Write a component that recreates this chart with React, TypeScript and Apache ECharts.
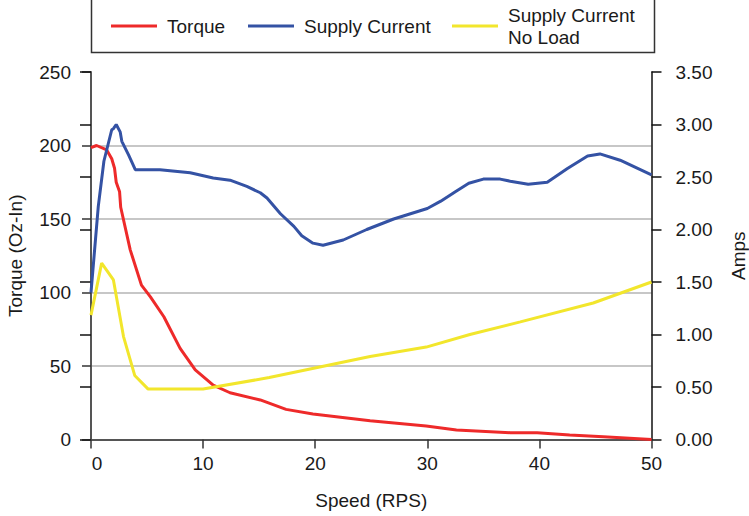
import React, { useEffect, useRef } from "react";
import * as echarts from "echarts";

const torqueSpeed = [0, 0.5, 1.4, 1.85, 2.1, 2.25, 2.55, 2.65, 3.5, 4.5, 5.3, 6.5, 7.95, 9.3, 10.9, 12.4, 15.1, 17.4, 19.8, 24.9, 29.9, 32.6, 37.4, 39.8, 42.7, 45.7, 50];
const torqueValues = [198.5, 200, 197, 191, 184.5, 175, 168.5, 158, 129, 105, 97, 83.5, 62, 47.3, 37, 31.8, 26.9, 20.5, 17.3, 12.8, 9.2, 6.5, 4.6, 4.6, 3.1, 1.9, 0];

const currentSpeed = [0, 0.65, 1.15, 1.85, 2.0, 2.25, 2.6, 2.75, 3.35, 3.95, 6.15, 8.85, 10.9, 12.4, 13.9, 15.1, 15.7, 16.9, 18.1, 18.8, 19.8, 20.7, 22.5, 24.6, 27.0, 30.0, 31.2, 32.5, 33.7, 35.0, 36.5, 37.4, 39.0, 40.7, 42.5, 44.3, 45.4, 47.2, 50];
const currentValues = [1.4, 2.22, 2.65, 2.95, 2.96, 3.0, 2.93, 2.84, 2.71, 2.57, 2.57, 2.54, 2.49, 2.47, 2.41, 2.35, 2.3, 2.15, 2.03, 1.94, 1.87, 1.85, 1.9, 2.0, 2.1, 2.2, 2.27, 2.36, 2.44, 2.48, 2.48, 2.46, 2.43, 2.45, 2.58, 2.7, 2.72, 2.66, 2.52];

const noLoadSpeed = [0, 0.95, 2.0, 2.9, 3.9, 5.1, 10.0, 15.9, 20.4, 24.9, 29.9, 33.8, 38.3, 44.8, 50];
const noLoadValues = [1.185, 1.68, 1.52, 0.98, 0.61, 0.48, 0.48, 0.59, 0.69, 0.79, 0.88, 1.0, 1.12, 1.3, 1.5];

const seriesNames = ["Torque", "Supply Current", "Supply Current\nNo Load"];
const seriesColors = ["#ee2a2a", "#3452a4", "#f2e62c"];

const FONT = "Liberation Sans, Arial, Helvetica, sans-serif";
const TXT = "#1a1a1a";
const FS = 19;

const zip = (xs: number[], ys: number[]) => xs.map((x, i) => [x, ys[i]]);

export default function App() {
  const ref = useRef<HTMLDivElement>(null);
  useEffect(() => {
    if (!ref.current) return;
    const chart = echarts.init(ref.current, null, { renderer: "svg" });
    const legendBase = {
      orient: "horizontal",
      icon: "rect",
      itemWidth: 46,
      itemHeight: 3,
      itemGap: 0,
      padding: 0,
      textStyle: { fontFamily: FONT, fontSize: FS, color: TXT, lineHeight: 22, padding: [0, 0, 0, 5] },
    };
    chart.setOption({
      animation: false,
      backgroundColor: "#fff",
      textStyle: { fontFamily: FONT },
      grid: {
        left: 91,
        right: 97.5,
        top: 72,
        bottom: 76.5,
        containLabel: false,
        outerBoundsMode: "none",
      },
      legend: [
        { ...legendBase, data: [seriesNames[0]], left: 111, top: 15 },
        { ...legendBase, data: [seriesNames[1]], left: 248, top: 15 },
        { ...legendBase, data: [seriesNames[2]], left: 452, top: 4 },
      ],
      graphic: [
        {
          type: "rect",
          left: 89,
          top: -10,
          shape: { width: 563, height: 60 },
          style: { fill: "none", stroke: "#333", lineWidth: 1.5 },
          silent: true,
        },
      ],
      xAxis: {
        type: "value",
        min: 0,
        max: 50,
        interval: 10,
        name: "Speed (RPS)",
        nameLocation: "middle",
        nameGap: 51,
        nameTextStyle: { fontFamily: FONT, fontSize: FS, color: TXT },
        axisLine: { show: true, onZero: false, lineStyle: { color: "#555", width: 2 } },
        axisTick: { show: true, length: 9, lineStyle: { color: "#333", width: 1.5 } },
        axisLabel: {
          fontFamily: FONT,
          fontSize: FS,
          color: TXT,
          margin: 14,
          formatter: (v: number) => (v === 0 ? "{z|0}" : String(v)),
          rich: { z: { fontFamily: FONT, fontSize: FS, color: TXT, padding: [0, 0, 0, 12] } },
        },
        splitLine: { show: false },
      },
      yAxis: [
        {
          type: "value",
          position: "left",
          min: 0,
          max: 250,
          interval: 50,
          name: "Torque (Oz-In)",
          nameLocation: "middle",
          nameGap: 66,
          nameTextStyle: { fontFamily: FONT, fontSize: FS, color: TXT },
          axisLine: { show: true, onZero: false, lineStyle: { color: "#555", width: 2 } },
          axisTick: { show: true, length: 9, lineStyle: { color: "#333", width: 1.5 } },
          axisLabel: { fontFamily: FONT, fontSize: FS, color: TXT, margin: 20 },
          splitLine: {
            show: true,
            lineStyle: {
              color: ["transparent", "#b4b4b4", "#b4b4b4", "#b4b4b4", "#b4b4b4", "transparent"],
              width: 1.5,
            },
          },
        },
        {
          type: "value",
          position: "right",
          min: 0,
          max: 3.5,
          interval: 0.5,
          name: "Amps",
          nameLocation: "middle",
          nameGap: 77,
          nameTextStyle: { fontFamily: FONT, fontSize: FS, color: TXT },
          axisLine: { show: true, onZero: false, lineStyle: { color: "#111", width: 1.5 } },
          axisTick: { show: true, length: 10, lineStyle: { color: "#111", width: 1.5 } },
          axisLabel: {
            fontFamily: FONT,
            fontSize: FS,
            color: TXT,
            margin: 24,
            formatter: (v: number) => v.toFixed(2),
          },
          splitLine: { show: false },
        },
        {
          type: "value",
          position: "right",
          min: 0,
          max: 3.5,
          interval: 0.5,
          axisLine: { show: false },
          axisTick: { show: true, inside: true, length: 11, lineStyle: { color: "#111", width: 1.5 } },
          axisLabel: { show: false },
          splitLine: { show: false },
        },
      ],
      series: [
        {
          name: seriesNames[0],
          type: "line",
          yAxisIndex: 0,
          data: zip(torqueSpeed, torqueValues),
          showSymbol: false,
          color: seriesColors[0],
          lineStyle: { width: 3, color: seriesColors[0] },
        },
        {
          name: seriesNames[1],
          type: "line",
          yAxisIndex: 1,
          data: zip(currentSpeed, currentValues),
          showSymbol: false,
          color: seriesColors[1],
          lineStyle: { width: 3, color: seriesColors[1] },
        },
        {
          name: seriesNames[2],
          type: "line",
          yAxisIndex: 1,
          data: zip(noLoadSpeed, noLoadValues),
          showSymbol: false,
          color: seriesColors[2],
          lineStyle: { width: 3, color: seriesColors[2] },
        },
      ],
    });
    return () => chart.dispose();
  }, []);
  return (
    <div
      ref={ref}
      style={{ position: "fixed", left: 0, top: 0, width: 749, height: 516 }}
    />
  );
}
